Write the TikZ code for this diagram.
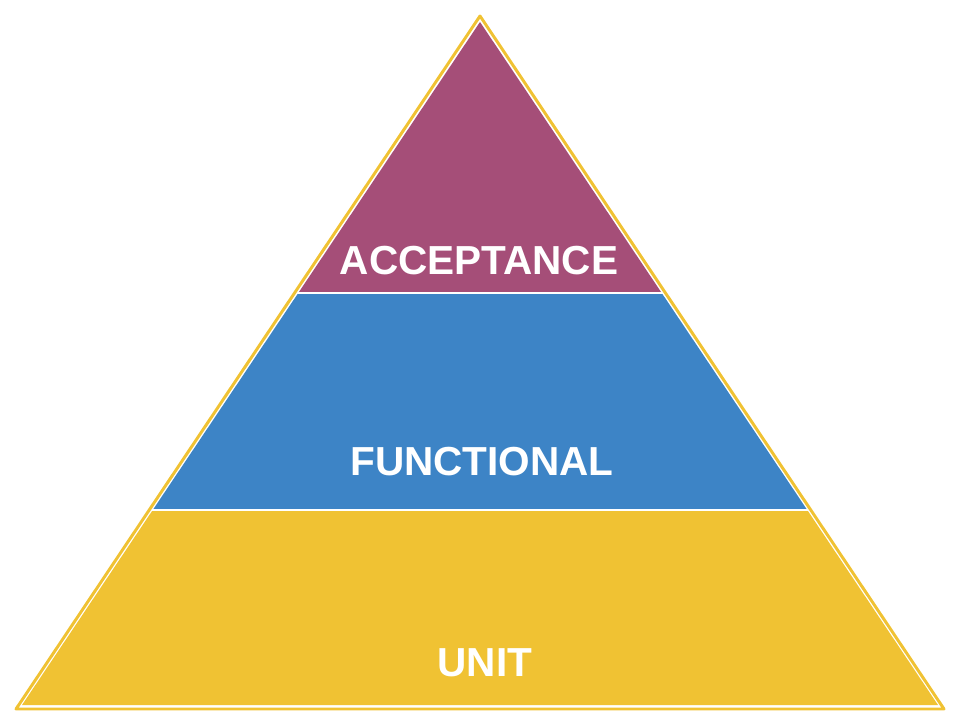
\documentclass[tikz,border=0pt]{standalone}
\usepackage{fontspec}
\setmainfont{Liberation Sans}
\definecolor{accpurple}{HTML}{A54E78}
\definecolor{funcblue}{HTML}{3D84C6}
\definecolor{unityellow}{HTML}{F0C233}
\begin{document}
\begin{tikzpicture}[x=0.75pt,y=-0.75pt,
  layertext/.style={text=white,font=\bfseries\fontsize{30.4}{36}\selectfont,inner sep=0pt}]
\useasboundingbox (0,0) rectangle (960,720);
% outer outline
\draw[unityellow,line width=2.2pt,line join=round] (480,16) -- (944,709) -- (16,709) -- cycle;
% inner layers
\coordinate (apex) at (480,22);
\coordinate (bl) at (22,705);
\coordinate (br) at (938,705);
\begin{scope}
  \clip (apex) -- (br) -- (bl) -- cycle;
  \fill[accpurple] (0,0) rectangle (960,292);
  \fill[funcblue] (0,294) rectangle (960,509);
  \fill[unityellow] (0,511) rectangle (960,720);
\end{scope}
\node[layertext] (acc) at (479,261) {ACCEPTANCE};
\node[layertext] (func) at (482,462) {FUNCTIONAL};
\node[layertext] (unit) at (485,663) {UNIT};
\end{tikzpicture}
\end{document}
